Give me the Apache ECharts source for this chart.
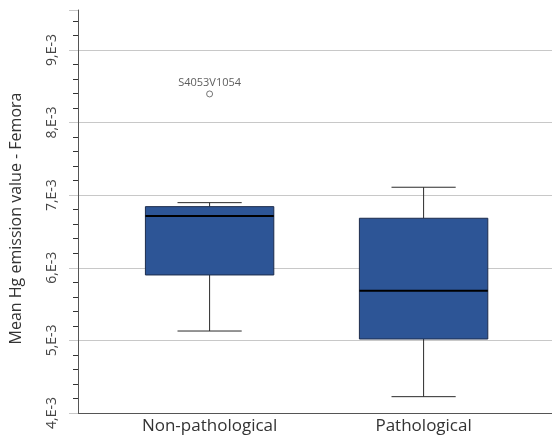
<!DOCTYPE html>
<html>
<head>
<meta charset="utf-8">
<script src="https://cdn.jsdelivr.net/npm/echarts@6/dist/echarts.min.js"></script>
<style>
  html, body { margin: 0; padding: 0; background: #fff; }
  #chart { width: 552px; height: 438px; }
</style>
</head>
<body>
<div id="chart"></div>
<script>
// Group names on the x axis
const categories = ['Non-pathological', 'Pathological'];

// Box statistics per group
const lowerWhisker = [5.129e-3, 4.225e-3];
const q1 = [5.901e-3, 5.019e-3];
const median = [6.713e-3, 5.685e-3];
const q3 = [6.842e-3, 6.682e-3];
const upperWhisker = [6.897e-3, 7.109e-3];

// Outliers: [group index, value, case label]
const outliers = [[0, 8.394e-3, 'S4053V1054']];

// Y axis range and tick step
const yMin = 0.004;
const yMax = 0.00955;
const yStep = 0.001;

const boxData = categories.map((c, i) => [i, lowerWhisker[i], q1[i], median[i], q3[i], upperWhisker[i]]);

const chart = echarts.init(document.getElementById('chart'), null, { renderer: 'canvas' });

const font = 'Open Sans, Noto Sans, sans-serif';

function renderBox(params, api) {
  const x = api.value(0);
  const lo = api.coord([x, api.value(1)]);
  const b1 = api.coord([x, api.value(2)]);
  const md = api.coord([x, api.value(3)]);
  const b3 = api.coord([x, api.value(4)]);
  const hi = api.coord([x, api.value(5)]);
  const half = api.size([0.6, 0])[0] / 2;
  const cap = api.size([0.3, 0])[0] / 2;
  const cx = lo[0];
  const whiskerStyle = { stroke: '#2b2b2b', lineWidth: 1 };
  return {
    type: 'group',
    children: [
      { type: 'line', shape: { x1: cx, y1: hi[1], x2: cx, y2: b3[1] }, style: whiskerStyle },
      { type: 'line', shape: { x1: cx, y1: b1[1], x2: cx, y2: lo[1] }, style: whiskerStyle },
      { type: 'line', shape: { x1: cx - cap, y1: hi[1], x2: cx + cap, y2: hi[1] }, style: whiskerStyle },
      { type: 'line', shape: { x1: cx - cap, y1: lo[1], x2: cx + cap, y2: lo[1] }, style: whiskerStyle },
      {
        type: 'rect',
        shape: { x: cx - half, y: b3[1], width: half * 2, height: b1[1] - b3[1] },
        style: { fill: '#2D5596', stroke: '#1c2c4c', lineWidth: 1 }
      },
      { type: 'line', shape: { x1: cx - half, y1: md[1], x2: cx + half, y2: md[1] }, style: { stroke: '#000', lineWidth: 2 } }
    ]
  };
}

chart.setOption({
  animation: false,
  backgroundColor: '#fff',
  grid: { left: 77, right: 0, top: 10, bottom: 25, containLabel: false },
  xAxis: {
    type: 'value',
    min: -0.615,
    max: 1.6,
    splitLine: { show: false },
    axisTick: { show: false },
    axisLine: { show: true, onZero: false, lineStyle: { color: '#555', width: 1 } },
    axisLabel: {
      customValues: [0, 1],
      formatter: v => categories[Math.round(v)] || '',
      color: '#333',
      fontFamily: font,
      fontSize: 17,
      margin: 5
    }
  },
  yAxis: {
    type: 'value',
    min: yMin,
    max: yMax,
    interval: yStep,
    name: 'Mean Hg emission value - Femora',
    nameLocation: 'middle',
    nameGap: 54,
    nameRotate: 90,
    nameTextStyle: { color: '#333', fontFamily: font, fontSize: 16, padding: [0, 14, 0, 0] },
    axisLine: { show: true, onZero: false, lineStyle: { color: '#555', width: 1 } },
    axisTick: { show: true, length: 9, lineStyle: { color: '#c8c8c8' } },
    minorTick: { show: true, splitNumber: 5, length: 5, lineStyle: { color: '#333' } },
    splitLine: { show: true, showMinLine: false, showMaxLine: false, lineStyle: { color: '#c8c8c8', width: 1 } },
    axisLabel: {
      rotate: 90,
      margin: 19,
      color: '#444',
      fontFamily: font,
      fontSize: 14,
      showMaxLabel: false,
      formatter: v => Math.round(v * 1000) + ',E-3'
    }
  },
  series: [
    {
      type: 'custom',
      renderItem: renderBox,
      data: boxData,
      encode: { x: 0, y: [1, 2, 3, 4, 5] },
      z: 3
    },
    {
      type: 'scatter',
      data: outliers,
      symbol: 'circle',
      symbolSize: 6,
      itemStyle: { color: '#fff', borderColor: '#555', borderWidth: 1 },
      label: {
        show: true,
        position: 'top',
        distance: 2,
        formatter: p => p.data[2],
        color: '#333',
        fontFamily: font,
        fontSize: 11
      },
      z: 4
    }
  ]
});
</script>
</body>
</html>
